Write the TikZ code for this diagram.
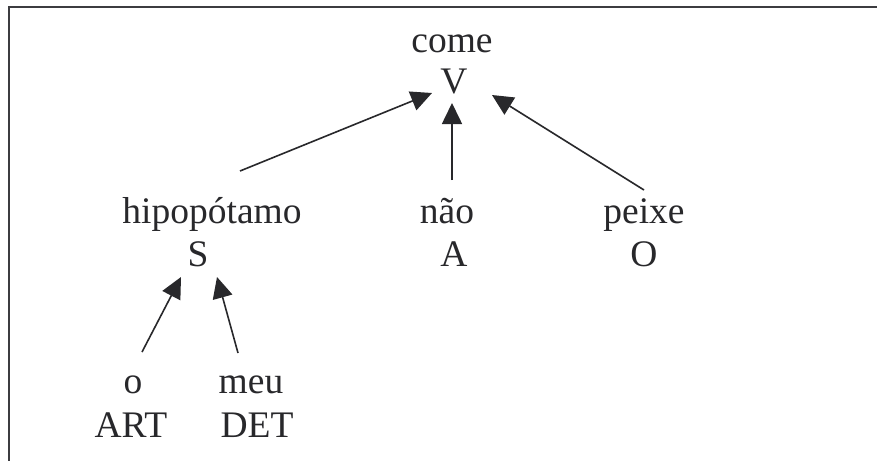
\documentclass[tikz,border=0pt]{standalone}
\usepackage{fontspec}
\setmainfont{Liberation Serif}
\usetikzlibrary{arrows.meta,calc}
\definecolor{ink}{RGB}{40,40,43}
\definecolor{frame}{RGB}{60,60,64}
\begin{document}
\begin{tikzpicture}[x=1pt,y=-1pt,
  lab/.style={anchor=base,inner sep=0pt,text=ink,font=\fontsize{37.5}{42}\selectfont},
  arr/.style={draw=ink,line width=1.6pt,-{Triangle[length=21pt,width=20pt]}}]
\useasboundingbox (0,0) rectangle (877,461);
\fill[white] (0,0) rectangle (877,461);
\draw[frame,line width=2.4pt] (877,7) -- (9,7) -- (9,461);
% nodes
\node[lab] (come) at (452,52) {come};
\node[lab] (V) at (454,93) {V};
\node[lab] (hipo) at (212,223) {hipopótamo};
\node[lab] (S) at (198,266) {S};
\node[lab] (nao) at (447,223) {não};
\node[lab] (A) at (454,266) {A};
\node[lab] (peixe) at (644,223) {peixe};
\node[lab] (O) at (644,266) {O};
\node[lab] (o) at (133,393) {o};
\node[lab] (ART) at (131,437) {ART};
\node[lab] (meu) at (251,393) {meu};
\node[lab] (DET) at (257,437) {DET};
% connectors
\draw[arr] ($(hipo.base)+(28,-52)$) -- ($(V.base)+(-22,0)$);
\draw[arr] ($(nao.base)+(5,-43)$) -- ($(V.base)+(-2,10)$);
\draw[arr] ($(peixe.base)+(0,-33)$) -- ($(V.base)+(38,2)$);
\draw[arr] ($(o.base)+(9,-41)$) -- ($(S.base)+(-17,11)$);
\draw[arr] ($(meu.base)+(-13,-40)$) -- ($(S.base)+(19,11)$);
\end{tikzpicture}
\end{document}
